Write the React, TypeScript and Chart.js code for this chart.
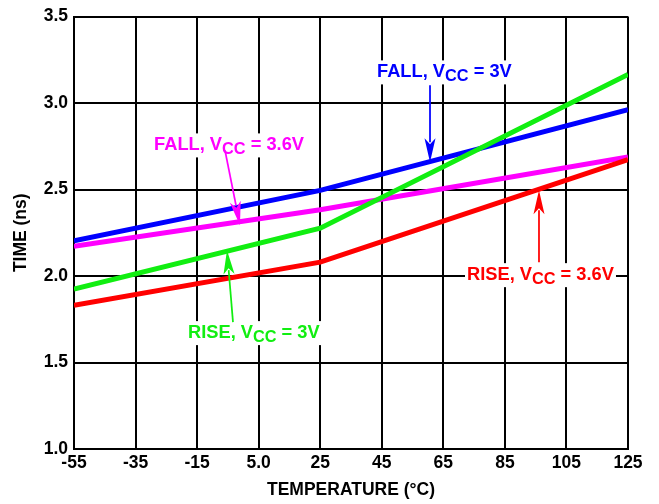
import React, { useEffect, useRef } from "react";
import { Chart, registerables } from "chart.js";

Chart.register(...registerables);

// ---- data ----
const temps = [-55, 25, 125];
const fall3V = [2.204, 2.495, 2.961];
const fall36V = [2.172, 2.383, 2.688];
const rise3V = [1.924, 2.276, 3.165];
const rise36V = [1.831, 2.08, 2.673];

const xTicks = [-55, -35, -15, 5, 25, 45, 65, 85, 105, 125];
const xTickLabels = ["-55", "-35", "-15", "5.0", "25", "45", "65", "85", "105", "125"];
const yTicks = [1.0, 1.5, 2.0, 2.5, 3.0, 3.5];
const yTickLabels = ["1.0", "1.5", "2.0", "2.5", "3.0", "3.5"];

const BLUE = "#0000ff";
const MAGENTA = "#ff00ff";
const GREEN = "#11ee11";
const RED = "#ff0000";

// annotation labels (data coordinates)
const labels = [
  { pre: "FALL, V", sub: "CC", post: " = 3V", color: BLUE, tx: 43.45, ty: 3.148, ax: 60.67, ay: 3.102, bx: 60.67, by: 2.657 },
  { pre: "FALL, V", sub: "CC", post: " = 3.6V", color: MAGENTA, tx: -29.0, ty: 2.726, ax: -5.94, ay: 2.726, bx: -1.07, by: 2.293 },
  { pre: "RISE, V", sub: "CC", post: " = 3V", color: GREEN, tx: -17.96, ty: 1.641, ax: -3.34, ay: 1.733, bx: -5.29, by: 2.149 },
  { pre: "RISE, V", sub: "CC", post: " = 3.6V", color: RED, tx: 72.69, ty: 1.976, ax: 96.08, ay: 2.08, bx: 96.08, by: 2.495 },
];

const FAMILY = "'Liberation Sans', Arial, Helvetica, sans-serif";

const annotationPlugin = {
  id: "vccLabels",
  afterDatasetsDraw(chart: any) {
    const ctx = chart.ctx as CanvasRenderingContext2D;
    const xs = chart.scales.x;
    const ys = chart.scales.y;
    const mainFont = `bold 18.3px ${FAMILY}`;
    const subFont = `bold 16.3px ${FAMILY}`;
    const subShift = 4;
    ctx.save();
    for (const l of labels) {
      const x0 = xs.getPixelForValue(l.tx);
      const base = ys.getPixelForValue(l.ty);
      ctx.font = mainFont;
      const w1 = ctx.measureText(l.pre).width;
      const w3 = ctx.measureText(l.post).width;
      ctx.font = subFont;
      const w2 = ctx.measureText(l.sub).width;
      const total = w1 + w2 + w3;
      // white background box
      ctx.fillStyle = "#ffffff";
      ctx.fillRect(x0 - 2, base - 17, total + 4, 17 + subShift + 3);
      // text
      ctx.fillStyle = l.color;
      ctx.textBaseline = "alphabetic";
      ctx.textAlign = "left";
      ctx.font = mainFont;
      ctx.fillText(l.pre, x0, base);
      ctx.font = subFont;
      ctx.fillText(l.sub, x0 + w1, base + subShift);
      ctx.font = mainFont;
      ctx.fillText(l.post, x0 + w1 + w2, base);
      // arrow
      const ax = xs.getPixelForValue(l.ax);
      const ay = ys.getPixelForValue(l.ay);
      const bx = xs.getPixelForValue(l.bx);
      const by = ys.getPixelForValue(l.by);
      const ang = Math.atan2(by - ay, bx - ax);
      const headLen = 24;
      const headW = 5.5;
      const hx = bx - Math.cos(ang) * headLen;
      const hy = by - Math.sin(ang) * headLen;
      ctx.strokeStyle = l.color;
      ctx.lineWidth = 1.75;
      ctx.beginPath();
      ctx.moveTo(ax, ay);
      ctx.lineTo(hx + Math.cos(ang) * 4, hy + Math.sin(ang) * 4);
      ctx.stroke();
      ctx.beginPath();
      ctx.moveTo(bx, by);
      ctx.lineTo(hx - Math.sin(ang) * headW, hy + Math.cos(ang) * headW);
      ctx.lineTo(hx + Math.cos(ang) * 6, hy + Math.sin(ang) * 6);
      ctx.lineTo(hx + Math.sin(ang) * headW, hy - Math.cos(ang) * headW);
      ctx.closePath();
      ctx.fill();
    }
    ctx.restore();
  },
};

export default function App() {
  const ref = useRef<HTMLCanvasElement | null>(null);
  useEffect(() => {
    document.body.style.margin = "0";
    const canvas = ref.current;
    if (!canvas) return;
    const mk = (data: number[], color: string, label: string) => ({
      label,
      data: temps.map((t, i) => ({ x: t, y: data[i] })),
      borderColor: color,
      backgroundColor: color,
      borderWidth: 5,
      pointRadius: 0,
      tension: 0,
      fill: false,
    });
    const tickFont = { family: FAMILY, size: 17.5, weight: "bold" as const };
    const chart = new Chart(canvas, {
      type: "line",
      data: {
        datasets: [
          mk(rise3V, GREEN, "RISE, VCC = 3V"),
          mk(rise36V, RED, "RISE, VCC = 3.6V"),
          mk(fall3V, BLUE, "FALL, VCC = 3V"),
          mk(fall36V, MAGENTA, "FALL, VCC = 3.6V"),
        ],
      },
      options: {
        animation: false,
        responsive: false,
        devicePixelRatio: 1,
        layout: { padding: { top: 16, right: 31, bottom: 0, left: 0 } },
        plugins: { legend: { display: false }, tooltip: { enabled: false } },
        scales: {
          x: {
            type: "linear",
            min: -55,
            max: 125,
            afterBuildTicks: (s: any) => {
              s.ticks = xTicks.map((v) => ({ value: v }));
            },
            afterFit: (s: any) => {
              s.height = 55;
            },
            ticks: {
              autoSkip: false,
              maxRotation: 0,
              padding: 4,
              color: "#000",
              font: tickFont,
              callback: (_v: any, i: number) => xTickLabels[i],
            },
            grid: { color: "#000", lineWidth: 2, drawTicks: false },
            border: { color: "#000", width: 2 },
            title: {
              display: true,
              text: "TEMPERATURE (°C)",
              color: "#000",
              font: tickFont,
              padding: { top: 0, bottom: 3 },
            },
          },
          y: {
            type: "linear",
            min: 1,
            max: 3.5,
            afterBuildTicks: (s: any) => {
              s.ticks = yTicks.map((v) => ({ value: v }));
            },
            afterFit: (s: any) => {
              s.width = 74;
            },
            ticks: {
              autoSkip: false,
              padding: 6,
              color: "#000",
              font: tickFont,
              callback: (_v: any, i: number) => yTickLabels[i],
            },
            grid: { color: "#000", lineWidth: 2, drawTicks: false },
            border: { color: "#000", width: 2 },
            title: {
              display: true,
              text: "TIME (ns)",
              color: "#000",
              font: tickFont,
              padding: { top: 11, bottom: 0 },
            },
          },
        },
      } as any,
      plugins: [annotationPlugin],
    });
    return () => chart.destroy();
  }, []);
  return (
    <div style={{ width: 659, height: 504 }}>
      <canvas ref={ref} width={659} height={504} style={{ display: "block" }} />
    </div>
  );
}
